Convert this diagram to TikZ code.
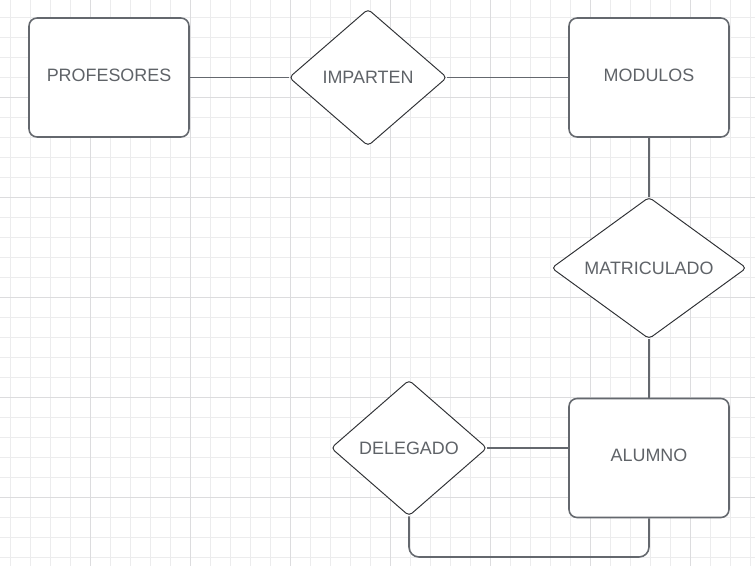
\documentclass[tikz,border=0pt]{standalone}
\usepackage{fontspec}
\setmainfont{Liberation Sans}
\usetikzlibrary{shapes.geometric}

\definecolor{gridminor}{RGB}{236,236,237}
\definecolor{gridmajor}{RGB}{220,220,222}
\definecolor{edgegray}{RGB}{100,104,110}
\definecolor{labelgray}{RGB}{95,99,104}
\definecolor{rombgray}{RGB}{48,50,54}

\tikzset{
  etiqueta/.style={font=\fontsize{10.2}{12}\selectfont, text=labelgray},
  entidad/.style={etiqueta, draw=edgegray, line width=0.9pt, rounded corners=0.16cm,
    fill=white, minimum width=3.2cm, minimum height=2.38cm, text depth=3pt},
  relacion/.style={etiqueta, diamond, draw=rombgray, line width=0.55pt,
    rounded corners=0.08cm, fill=white, inner sep=0pt},
  enlace/.style={draw=edgegray, line width=0.9pt},
}

\begin{document}
\begin{tikzpicture}[x=0.02cm, y=-0.02cm]
    \useasboundingbox (0, 0) rectangle (755, 566);
    \fill[white] (0, 0) rectangle (755, 566);
    % cuadricula de fondo
    \foreach \gx in {10, 30, ..., 750}
      \draw[gridminor, line width=0.5pt] (\gx, 0) -- (\gx, 566);
    \foreach \gy in {17, 37, ..., 566}
      \draw[gridminor, line width=0.5pt] (0, \gy) -- (755, \gy);
    \foreach \gx in {90, 190, ..., 750}
      \draw[gridmajor, line width=0.5pt] (\gx, 0) -- (\gx, 566);
    \foreach \gy in {97, 197, ..., 566}
      \draw[gridmajor, line width=0.5pt] (0, \gy) -- (755, \gy);

    % conexiones
    \coordinate (base) at (0, 557);
    \coordinate (P) at (109, 77.5);
    \coordinate (I) at (368, 77.5);
    \coordinate (M) at (649, 77.5);
    \coordinate (R) at (649, 268);
    \coordinate (A) at (649, 458);
    \coordinate (D) at (409, 448);

    \node[entidad] (profesores) at (P) {PROFESORES};
    \node[entidad] (modulos) at (M) {MODULOS};
    \node[entidad] (alumno) at (A) {ALUMNO};
    \node[relacion, minimum width=3.16cm, minimum height=2.74cm] (imparten) at (I) {IMPARTEN};
    \node[relacion, minimum width=3.9cm, minimum height=2.76cm] (matriculado) at (R) {MATRICULADO};
    \node[relacion, minimum width=3.12cm, minimum height=2.72cm] (delegado) at (D) {DELEGADO};

    \draw[enlace] (profesores) -- (imparten);
    \draw[enlace] (imparten) -- (modulos);
    \draw[enlace] (modulos) -- (matriculado);
    \draw[enlace] (matriculado) -- (alumno);
    \draw[enlace] (delegado.east) -- (delegado.east -| alumno.west);
    \draw[enlace, rounded corners=0.2cm] (delegado.south) -- (delegado.south |- base)
                -- (alumno.south |- base) -- (alumno.south);
  \end{tikzpicture}
\end{document}
